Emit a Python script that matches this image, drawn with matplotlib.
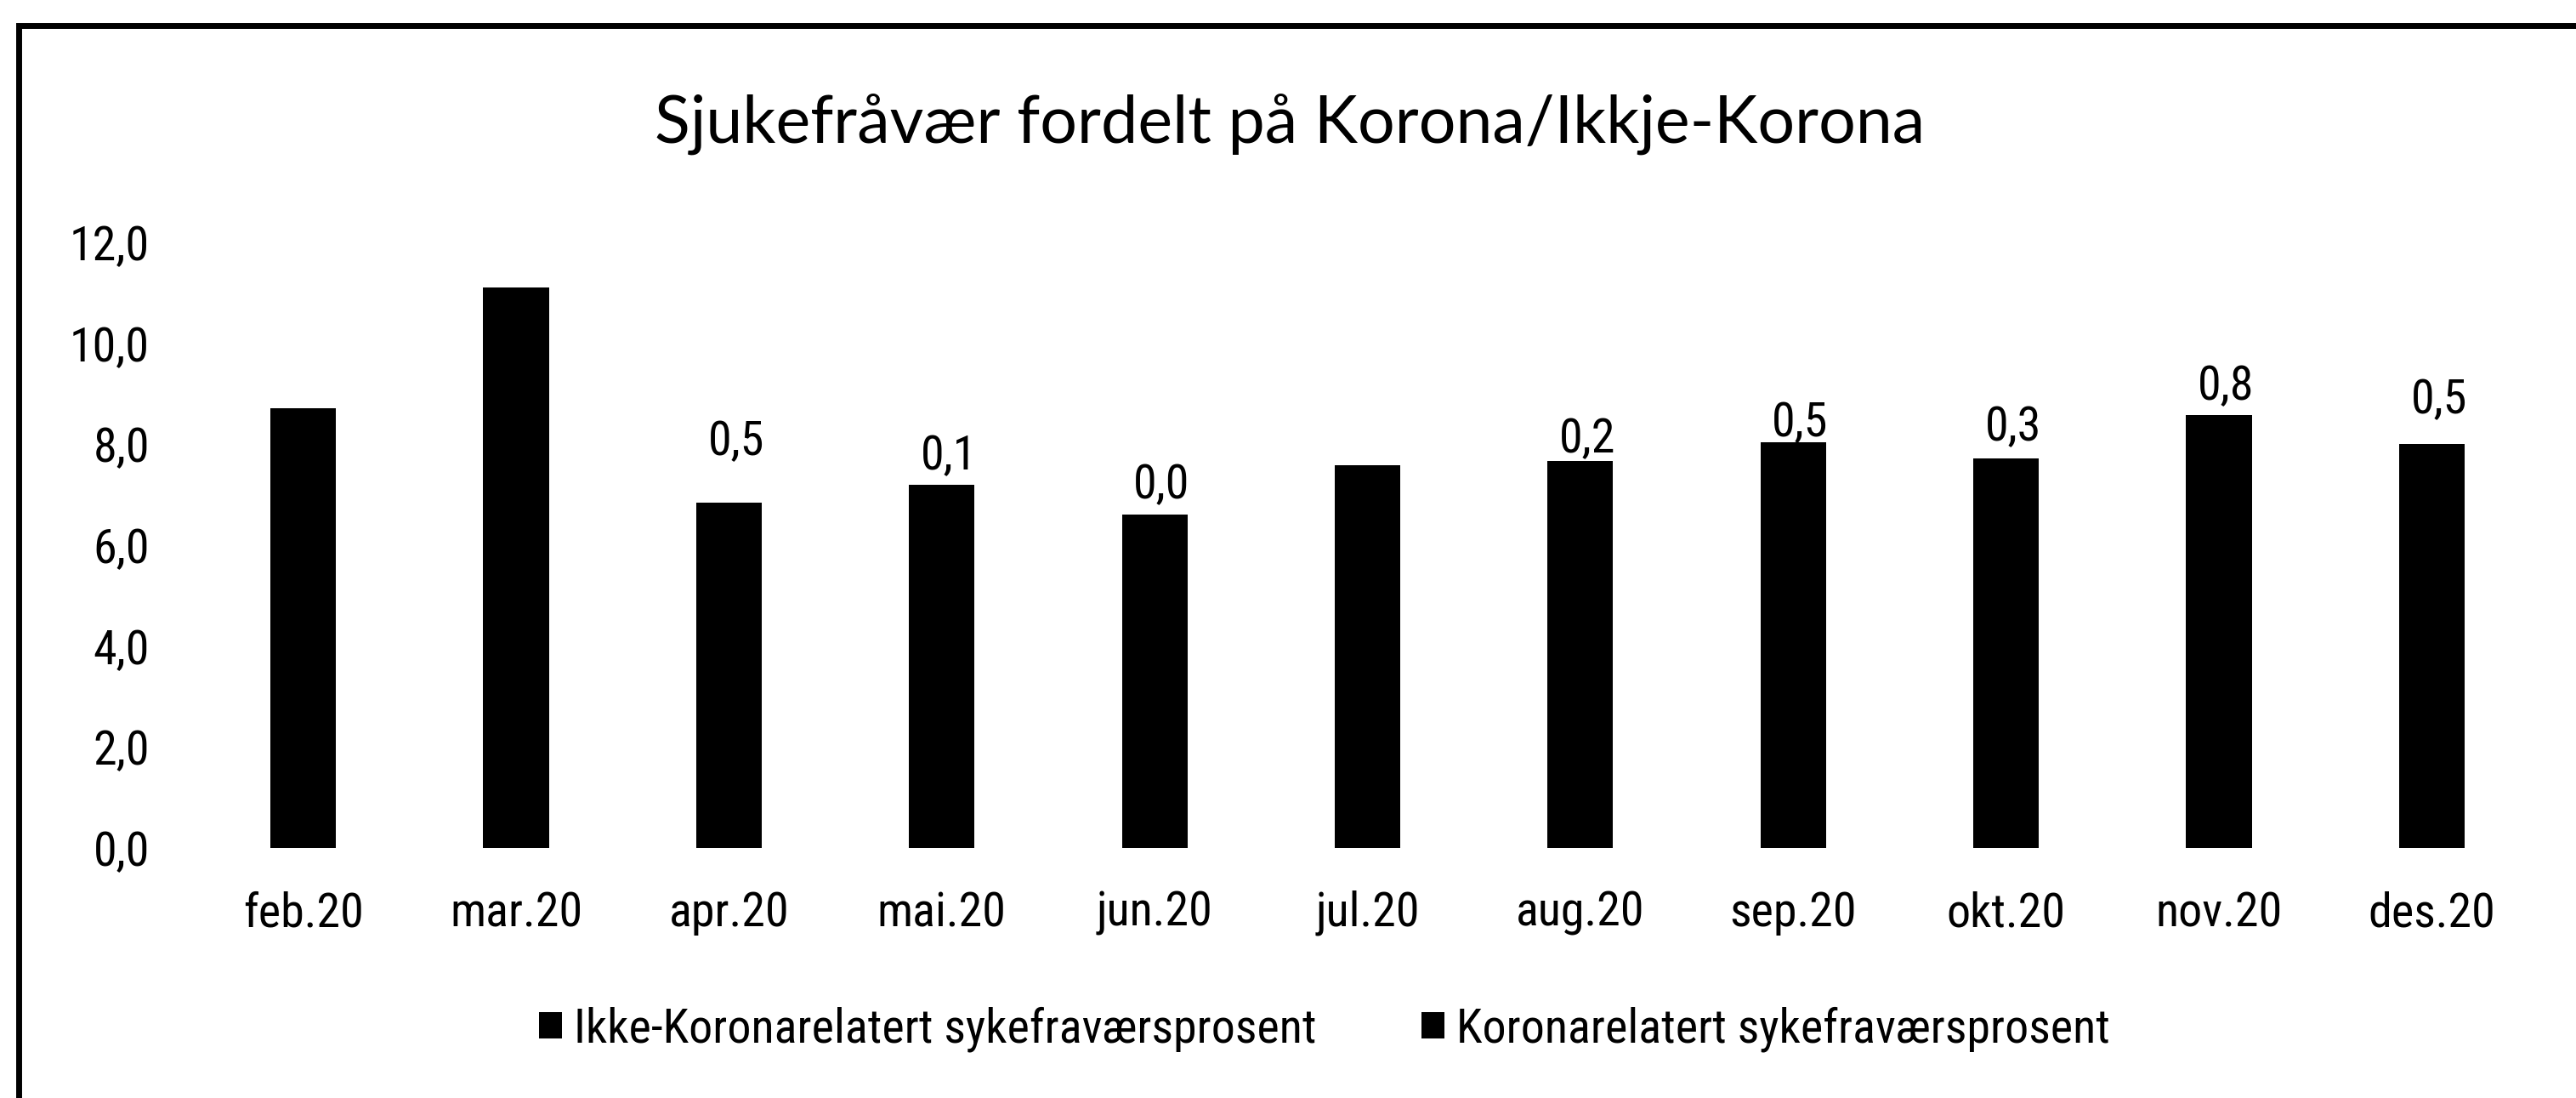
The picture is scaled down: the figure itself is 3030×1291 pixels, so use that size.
import matplotlib
matplotlib.use('Agg')
import matplotlib.pyplot as plt
from matplotlib import font_manager
from matplotlib.font_manager import FontProperties
from matplotlib.lines import Line2D
from matplotlib.ticker import FuncFormatter
import numpy as np

# data
months = ['feb.20', 'mar.20', 'apr.20', 'mai.20', 'jun.20', 'jul.20',
          'aug.20', 'sep.20', 'okt.20', 'nov.20', 'des.20']
ikke_korona = [8.72, 11.11, 6.34, 7.09, 6.60, 7.59, 7.47, 7.54, 7.42, 7.78, 7.50]
korona = [None, None, 0.5, 0.1, 0.0, None, 0.2, 0.5, 0.3, 0.8, 0.5]
title = 'Sjukefråvær fordelt på Korona/Ikkje-Korona'
serie_navn = ['Ikke-Koronarelatert sykefraværsprosent', 'Koronarelatert sykefraværsprosent']

# how far above the bar each data label sits (px), hand placed in the original
label_lift_px = [0, 0, 56, 18, 19, 0, 10, 7, 21, 18, 36]


#--- pick a narrow Arial-like font if there is one ---
def rang(f):
    n = f.name.lower()
    st = str(f.stretch).lower()
    smal = 'narrow' in n or 'condensed' in n or 'condensed' in st or 'narrow' in st
    if not smal or 'mono' in n or 'serif' in n or 'semi' in st:
        return None
    if 'liberation sans' in n or 'arial' in n:
        return 0
    if 'roboto' in n:
        return 1
    if 'open sans' in n or 'noto sans' in n or 'lato' in n:
        return 2
    if 'dejavu sans' in n:
        return 3
    return 4

valg = []
for f in font_manager.fontManager.ttflist:
    if f.style != 'normal' or f.weight not in (400, 'normal', 'regular', 'book'):
        continue
    r = rang(f)
    if r is not None:
        valg.append((r, f.fname))
valg.sort()
if valg:
    smal_fp = FontProperties(fname=valg[0][1])
else:
    smal_fp = FontProperties(family='Liberation Sans')

W, H = 3030, 1291
fig = plt.figure(figsize=(W / 100, H / 100), dpi=100)

# size the narrow font: 43pt gives the right height, "feb.20" should be ~133 px wide
tmp = fig.text(0, 0, 'feb.20', fontproperties=smal_fp, fontsize=43)
fig.canvas.draw()
bredde = tmp.get_window_extent().width
tmp.remove()
fs = 43 * min(1.0, 133 / bredde) ** 0.5
smal_fp.set_size(fs)

ax = fig.add_axes([231.5 / W, 1 - 997 / H, 2754 / W, 712 / H])

x = np.arange(len(months))
ikke = np.array(ikke_korona)
kor = np.array([np.nan if v is None else v for v in korona])

b1 = ax.bar(x, ikke, width=0.308, color='black', label=serie_navn[0])
b2 = ax.bar(x, np.nan_to_num(kor), bottom=ikke, width=0.308, color='black', label=serie_navn[1])

for i, v in enumerate(kor):
    if np.isnan(v):
        continue
    ax.annotate(f'{v:.1f}'.replace('.', ','), xy=(i, ikke[i] + v),
                xytext=(6, label_lift_px[i] * 0.72), textcoords='offset points',
                ha='center', va='baseline', fontproperties=smal_fp)

ax.set_xlim(-0.5, 10.5)
ax.set_ylim(0, 12)
ax.set_yticks(np.arange(0, 13, 2))
ax.yaxis.set_major_formatter(FuncFormatter(lambda v, p: f'{v:.1f}'.replace('.', ',')))
ax.set_xticks(x)
ax.set_xticklabels(months)
for s in ax.spines.values():
    s.set_visible(False)
ax.tick_params(axis='y', length=0, pad=40)
ax.tick_params(axis='x', length=0, pad=36)
for lbl in ax.get_xticklabels() + ax.get_yticklabels():
    lbl.set_fontproperties(smal_fp)

t = fig.text(1517 / W, 1 - 168 / H, title, ha='center', va='baseline',
             fontsize=60, family=['Lato', 'DejaVu Sans'])
fig.canvas.draw()
w = t.get_window_extent().width
t.set_fontsize(60 * 1496 / w)

fig.legend(handles=[b1, b2], loc='center', bbox_to_anchor=(1558 / W, 1 - 1210 / H),
           ncol=2, frameon=False, prop=smal_fp, handlelength=0.48, handleheight=0.48,
           handletextpad=0.25, columnspacing=2.2)

# the chart frame, cut off at right and bottom
fx = [22 / W, 22 / W, 1.01]
fy = [-0.01, 1 - 30 / H, 1 - 30 / H]
fig.add_artist(Line2D(fx, fy, transform=fig.transFigure, color='black', lw=5,
                      solid_joinstyle='miter', clip_on=False))

fig.savefig('out.png', dpi=100)
